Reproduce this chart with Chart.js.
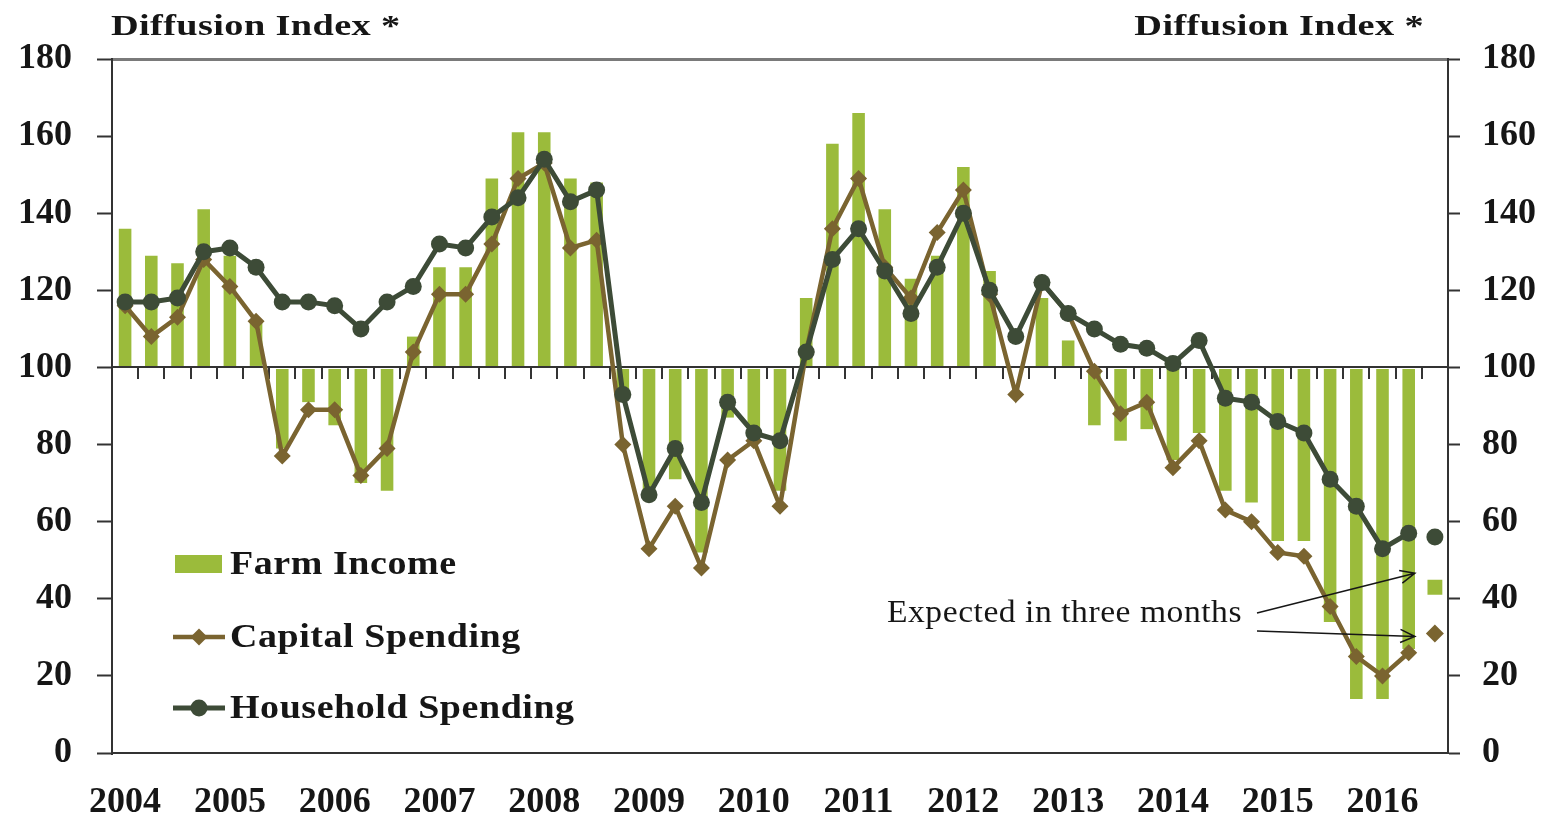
<!DOCTYPE html>
<html>
<head>
<meta charset="utf-8">
<title>Diffusion Index</title>
<script src="https://cdn.jsdelivr.net/npm/chart.js@4.4.1/dist/chart.umd.min.js"></script>
<style>
  html, body { margin: 0; padding: 0; background: #fff; }
  #wrap { position: relative; width: 1557px; height: 820px; }
</style>
</head>
<body>
<div id="wrap"><canvas id="chart"></canvas></div>
<script>
// Quarterly readings, 2004 Q1 through 2016 Q2, plus next-quarter expectations
const years = ['2004', '2005', '2006', '2007', '2008', '2009', '2010',
               '2011', '2012', '2013', '2014', '2015', '2016'];

const farmIncome = [136, 129, 127, 141, 129, 112, 79, 91, 85, 70, 68, 108,
                    126, 126, 149, 161, 161, 149, 148, 93, 68, 71, 52, 87,
                    83, 68, 118, 158, 166, 141, 123, 129, 152, 125, 100, 118,
                    107, 85, 81, 84, 76, 83, 68, 65, 55, 55, 34, 14, 14, 27];

const capitalSpending = [116, 108, 113, 128, 121, 112, 77, 89, 89, 72, 79, 104,
                         119, 119, 132, 149, 153, 131, 133, 80, 53, 64, 48, 76,
                         81, 64, 104, 136, 149, 126, 118, 135, 146, 119, 93, 122,
                         114, 99, 88, 91, 74, 81, 63, 60, 52, 51, 38, 25, 20, 26];

const householdSpending = [117, 117, 118, 130, 131, 126, 117, 117, 116, 110, 117, 121,
                           132, 131, 139, 144, 154, 143, 146, 93, 67, 79, 65, 91,
                           83, 81, 104, 128, 136, 125, 114, 126, 140, 120, 108, 122,
                           114, 110, 106, 105, 101, 107, 92, 91, 86, 83, 71, 64, 53, 57];

// expected in three months (2016 Q3)
const expectedFarm = 43;
const expectedCapital = 31;
const expectedHousehold = 56;

const yTicks = { min: 0, max: 180, step: 20 };

// one category per quarter, the last one holds the expectations
const quarters = [];
years.forEach(y => ['Q1', 'Q2', 'Q3', 'Q4'].forEach(q => quarters.push(y + ' ' + q)));
quarters.length = farmIncome.length + 1;

const GREEN = '#9bbb3b';
const BROWN = '#7a6430';
const DARK = '#3d4b37';
const INK = '#161616';
const SERIF = '"Liberation Serif", "Times New Roman", serif';

function onlyLast(value) {
    const arr = quarters.map(() => null);
    arr[arr.length - 1] = value;
    return arr;
}

function drawText(ctx, text, x, y, font, align, stretch, spacing) {
    ctx.save();
    ctx.font = font;
    if ('letterSpacing' in ctx) ctx.letterSpacing = spacing + 'px';
    ctx.fillStyle = INK;
    ctx.textAlign = align;
    ctx.textBaseline = 'alphabetic';
    ctx.translate(x, y);
    ctx.scale(stretch, 1);
    ctx.fillText(text, 0, 0);
    ctx.restore();
}

function arrow(ctx, x1, y1, x2, y2) {
    const ang = Math.atan2(y2 - y1, x2 - x1);
    const head = 16, spread = 0.42;
    ctx.beginPath();
    ctx.moveTo(x1, y1);
    ctx.lineTo(x2, y2);
    ctx.moveTo(x2 - head * Math.cos(ang - spread), y2 - head * Math.sin(ang - spread));
    ctx.lineTo(x2, y2);
    ctx.lineTo(x2 - head * Math.cos(ang + spread), y2 - head * Math.sin(ang + spread));
    ctx.stroke();
}

// axis titles, the legend box and the "expected" note
const extras = {
    id: 'extras',
    afterDraw(chart) {
        const { ctx, scales } = chart;
        const titleFont = 'bold 29px ' + SERIF;
        drawText(ctx, 'Diffusion Index *', 111, 35, titleFont, 'left', 1.32, 0.3);
        drawText(ctx, 'Diffusion Index *', 1424, 35, titleFont, 'right', 1.32, 0.3);

        // legend
        const legendFont = 'bold 33px ' + SERIF;
        const rows = [564, 637, 708];
        const ds = chart.data.datasets;
        ctx.save();
        ctx.fillStyle = ds[0].backgroundColor;
        ctx.fillRect(175, rows[0] - 9, 47, 18);
        [ds[1], ds[2]].forEach((d, i) => {
            const y = rows[i + 1];
            ctx.strokeStyle = d.borderColor;
            ctx.lineWidth = d.borderWidth;
            ctx.beginPath();
            ctx.moveTo(173, y);
            ctx.lineTo(225, y);
            ctx.stroke();
            ctx.fillStyle = d.pointBackgroundColor;
            ctx.beginPath();
            if (d.pointStyle === 'rectRot') {
                const r = d.pointRadius;
                ctx.moveTo(199 - r, y);
                ctx.lineTo(199, y - r);
                ctx.lineTo(199 + r, y);
                ctx.lineTo(199, y + r);
                ctx.closePath();
            } else {
                ctx.arc(199, y, d.pointRadius, 0, Math.PI * 2);
            }
            ctx.fill();
        });
        ctx.restore();
        ds.slice(0, 3).forEach((d, i) => {
            drawText(ctx, d.label, 230, rows[i] + 10, legendFont, 'left', 1.15, 0.5);
        });

        // note with arrows pointing at the expected values
        drawText(ctx, 'Expected in three months', 887, 622, '32px ' + SERIF, 'left', 1.05, 0.5);
        const xs = scales.x, ys = scales.y;
        const tipX = xs.getPixelForValue(quarters.length - 1) - 20;
        ctx.save();
        ctx.strokeStyle = INK;
        ctx.lineWidth = 1.5;
        arrow(ctx, 1257, 613, tipX, ys.getPixelForValue(expectedFarm) - 14);
        arrow(ctx, 1257, 631, tipX, ys.getPixelForValue(expectedCapital) + 3);
        ctx.restore();
    }
};

const tickFont = { family: SERIF, size: 36, weight: 'bold' };

new Chart(document.getElementById('chart'), {
    type: 'bar',
    data: {
        labels: quarters,
        datasets: [
            {
                label: 'Farm Income',
                data: farmIncome,
                base: 100,
                backgroundColor: GREEN,
                barPercentage: 0.48,
                categoryPercentage: 1,
                order: 5
            },
            {
                type: 'line',
                label: 'Capital Spending',
                data: capitalSpending,
                borderColor: BROWN,
                borderWidth: 4.5,
                pointStyle: 'rectRot',
                pointRadius: 8.5,
                pointBackgroundColor: BROWN,
                pointBorderWidth: 0,
                tension: 0,
                order: 2
            },
            {
                type: 'line',
                label: 'Household Spending',
                data: householdSpending,
                borderColor: DARK,
                borderWidth: 5,
                pointStyle: 'circle',
                pointRadius: 8.5,
                pointBackgroundColor: DARK,
                pointBorderWidth: 0,
                tension: 0,
                order: 1
            },
            {
                type: 'line',
                label: 'Farm Income expected',
                data: onlyLast(expectedFarm),
                showLine: false,
                pointStyle: 'rect',
                pointRadius: 10.5,
                pointBackgroundColor: GREEN,
                pointBorderWidth: 0,
                order: 0
            },
            {
                type: 'line',
                label: 'Capital Spending expected',
                data: onlyLast(expectedCapital),
                showLine: false,
                pointStyle: 'rectRot',
                pointRadius: 9,
                pointBackgroundColor: BROWN,
                pointBorderWidth: 0,
                order: 0
            },
            {
                type: 'line',
                label: 'Household Spending expected',
                data: onlyLast(expectedHousehold),
                showLine: false,
                pointStyle: 'circle',
                pointRadius: 8.5,
                pointBackgroundColor: DARK,
                pointBorderWidth: 0,
                order: 0
            }
        ]
    },
    options: {
        responsive: true,
        maintainAspectRatio: false,
        animation: false,
        layout: { padding: { top: 59, left: 0, right: 0, bottom: 0 } },
        plugins: {
            legend: { display: false },
            tooltip: { enabled: false }
        },
        scales: {
            x: {
                type: 'category',
                position: 'bottom',
                offset: true,
                grid: { display: false, drawTicks: false },
                border: { display: true, color: '#333', width: 2 },
                ticks: {
                    autoSkip: false,
                    maxRotation: 0,
                    padding: 28,
                    color: INK,
                    font: tickFont,
                    callback: (v, i) => quarters[i].endsWith('Q1') ? quarters[i].slice(0, 4) : ''
                },
                afterFit: s => { s.height = 67; }
            },
            // the axis line across the middle at 100, with quarter ticks
            xMid: {
                type: 'category',
                axis: 'x',
                position: { y: 100 },
                offset: true,
                grid: {
                    offset: true,
                    drawOnChartArea: false,
                    drawTicks: true,
                    tickLength: 11,
                    color: '#333',
                    lineWidth: 2
                },
                border: { display: true, color: '#333', width: 2 },
                ticks: { display: false }
            },
            y: {
                position: 'left',
                min: yTicks.min,
                max: yTicks.max,
                ticks: { stepSize: yTicks.step, padding: 25, color: INK, font: tickFont },
                grid: {
                    drawOnChartArea: true,
                    color: c => c.tick && c.tick.value === yTicks.max ? '#7a7a7a' : 'rgba(0,0,0,0)',
                    lineWidth: 3,
                    tickLength: 15,
                    tickColor: '#333',
                    tickWidth: 2
                },
                border: { color: '#333', width: 2 },
                afterFit: s => { s.width = 112; }
            },
            y1: {
                position: 'right',
                min: yTicks.min,
                max: yTicks.max,
                ticks: { stepSize: yTicks.step, padding: 22, color: INK, font: tickFont },
                grid: {
                    drawOnChartArea: false,
                    tickLength: 12,
                    color: '#333',
                    tickColor: '#333',
                    tickWidth: 2
                },
                border: { color: '#333', width: 2 },
                afterFit: s => { s.width = 109; }
            }
        }
    },
    plugins: [extras]
});
</script>
</body>
</html>
